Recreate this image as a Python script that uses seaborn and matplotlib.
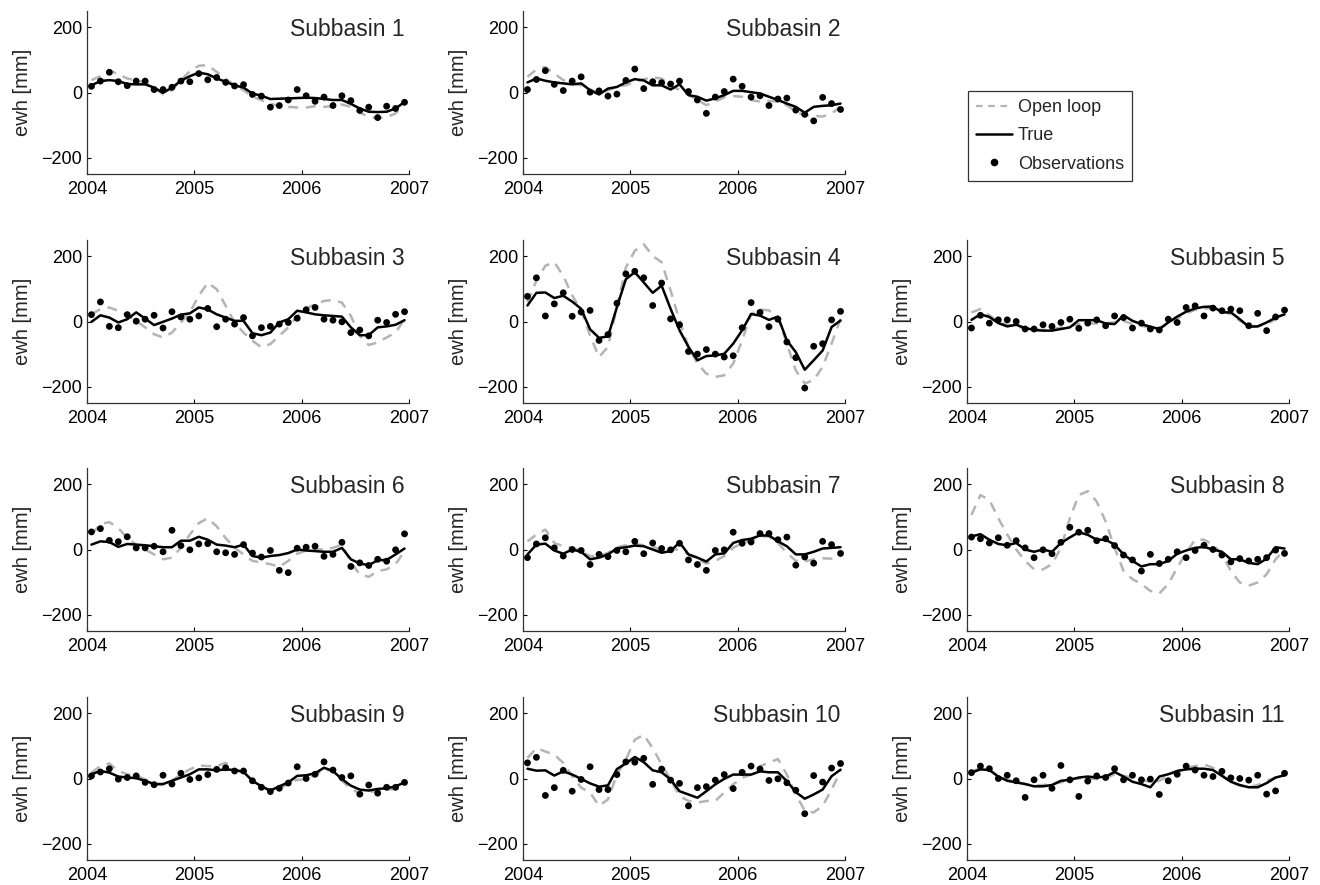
import matplotlib
matplotlib.use("Agg")
import matplotlib.pyplot as plt
from matplotlib.lines import Line2D
import numpy as np
import pandas as pd
import seaborn as sns

# monthly series, Jan 2004 - Dec 2006, plotted at mid-month
months = np.arange(36)
time_years = 2004 + (months + 0.5) / 12

sb1_obs = [19, 35, 62, 33, 21, 35, 35, 9, 9, 16, 35, 33, 58, 39, 46, 31, 20, 24, -6, -11,
           -45, -40, -23, 9, -10, -27, -14, -40, -10, -25, -55, -45, -77, -42, -49, -30]
sb1_true = [22, 35, 38, 35, 26, 25, 25, 15, -1, 15, 36, 50, 61, 56, 43, 33, 22, 15, -3, -10,
            -20, -19, -18, -17, -16, -17, -20, -23, -23, -35, -49, -59, -60, -59, -49, -29]
sb1_open = [38, 50, 68, 56, 43, 38, 31, 15, -5, 7, 38, 65, 82, 84, 63, 43, 22, 7, -13, -23,
            -34, -42, -44, -46, -46, -42, -44, -42, -37, -44, -62, -74, -79, -76, -64, -34]

sb2_obs = [9, 40, 67, 25, 6, 35, 48, 1, 5, -11, -5, 37, 72, 12, 33, 30, 26, 35, 3, -23,
           -64, -14, 3, 41, 19, -14, -10, -40, -20, -17, -54, -67, -87, -15, -34, -52]
sb2_true = [31, 43, 36, 31, 28, 25, 28, 7, -6, 12, 17, 31, 41, 37, 22, 22, 9, 25, -8, -13,
            -25, -18, -8, 5, 5, 1, -3, -13, -23, -34, -44, -62, -44, -41, -39, -34]
sb2_open = [48, 71, 78, 58, 38, 28, 22, 9, -3, 7, 17, 22, 33, 41, 46, 43, 19, 9, -8, -23,
            -39, -28, -15, -11, -13, -23, -28, -26, -28, -39, -59, -70, -71, -74, -64, -44]

sb3_obs = [21, 60, -15, -19, 21, 1, 7, 19, -20, 30, 14, 7, 17, 40, -16, 7, -8, 12, -44, -19,
           -15, -8, -3, 10, 36, 43, 7, 4, -1, -34, -26, -44, 4, -3, 22, 30]
sb3_true = [-1, 19, 12, -3, 7, 28, 9, -11, -1, 9, 21, 25, 43, 37, 22, 12, 2, 2, -36, -42,
            -34, -3, 7, 33, 28, 22, 19, 17, 15, -18, -42, -42, -18, -15, -10, 4]
sb3_open = [22, 38, 43, 33, 19, 2, -18, -39, -49, -34, -3, 28, 79, 119, 99, 48, -3, -34, -59, -79,
            -69, -44, -18, 17, 40, 53, 63, 66, 58, 17, -44, -72, -64, -49, -34, 7]

sb4_obs = [77, 134, 17, 54, 88, 16, 29, 34, -58, -40, 56, 146, 154, 134, 49, 118, 8, -10, -92, -100,
           -86, -100, -109, -105, -19, 58, 28, -16, 7, -63, -111, -204, -76, -68, 5, 31]
sb4_true = [49, 88, 89, 72, 79, 61, 39, -24, -50, -46, 44, 130, 151, 120, 88, 110, 39, -27, -78, -119,
            -106, -104, -99, -68, -27, 23, 18, 5, 15, -58, -94, -148, -119, -89, -17, 3]
sb4_open = [59, 125, 171, 182, 140, 80, 34, -43, -109, -78, 44, 166, 217, 237, 201, 182, 95, 3, -78, -129,
            -160, -170, -165, -129, -58, 23, 37, 34, 13, -68, -150, -190, -180, -139, -68, 8]

sb5_obs = [-20, 19, -5, 5, 5, 0, -23, -23, -10, -15, -3, 7, -21, -5, 5, -13, 17, 12, -20, -5,
           -23, -26, 7, -3, 43, 48, 17, 41, 33, 38, 33, -13, 25, -28, 14, 35]
sb5_true = [5, 22, 14, -5, -15, -10, -20, -26, -28, -28, -23, -18, 4, 4, 4, -6, -8, 19, 2, -8,
            -16, -23, -3, 15, 30, 40, 45, 46, 28, 28, 7, -16, -15, -3, 12, 22]
sb5_open = [28, 38, 19, -1, -10, -15, -21, -25, -26, -23, -19, -15, -8, -6, -6, -5, -3, 2, -8, -13,
            -20, -21, -8, 9, 25, 36, 40, 40, 33, 22, 2, -13, -15, -8, 7, 22]

sb6_obs = [54, 64, 28, 24, 39, 5, 5, 10, -7, 59, 12, -1, 17, 18, -7, -10, -15, 15, -11, -23,
           -3, -64, -71, 4, 7, 10, -21, -15, 22, -52, -41, -49, -30, -36, -1, 48]
sb6_true = [15, 25, 23, 8, 17, 15, 13, 10, 7, 7, 27, 27, 39, 30, 15, 12, 7, 15, -20, -25,
            -20, -17, -11, 0, -3, -5, -7, -7, 5, -30, -43, -48, -33, -32, -15, 3]
sb6_open = [46, 78, 84, 66, 35, 15, 0, -15, -30, -25, 5, 46, 81, 96, 71, 35, 5, -15, -35, -40,
            -45, -53, -35, -13, -3, 0, 0, 5, 15, -40, -76, -84, -66, -61, -45, -5]

sb7_obs = [-25, 17, 36, 5, -20, 0, -3, -46, -15, -22, -3, -7, 25, -13, 20, 3, -1, 19, -32, -46,
           -64, -3, -1, 53, 19, 23, 49, 49, 30, 38, -48, -23, -42, 25, 15, -12]
sb7_true = [-15, 15, 18, -3, -13, 0, -7, -30, -25, -15, 3, 7, 12, 10, 0, -10, -5, 22, -15, -25,
            -37, -15, -12, 20, 29, 33, 43, 43, 25, 10, -15, -15, -7, 3, 5, 7]
sb7_open = [25, 46, 61, 20, 10, 5, -5, -20, -20, -10, 7, 13, 17, 13, 10, -3, 0, 0, -15, -30,
            -43, -35, -20, 5, 20, 27, 40, 40, 20, -10, -35, -37, -30, -27, -28, -20]

sb8_obs = [38, 33, 20, 36, 13, 27, 5, -25, -1, -13, 22, 68, 53, 59, 27, 33, 12, -17, -32, -66,
           -15, -43, -30, -7, -25, -3, 13, 0, -17, -38, -28, -35, -30, -25, -2, -12]
sb8_true = [40, 47, 30, 17, 13, 20, 0, -7, 0, -7, 20, 37, 53, 45, 30, 30, 15, -15, -35, -52,
            -45, -45, -35, -13, -3, 5, 8, 0, -7, -30, -30, -41, -45, -28, 7, 3]
sb8_open = [106, 167, 152, 96, 46, 0, -35, -61, -61, -45, 5, 96, 167, 179, 147, 86, 5, -66, -91, -106,
            -127, -135, -106, -56, -10, 30, 30, 15, -15, -66, -101, -111, -101, -76, -30, 0]

sb9_obs = [8, 20, 30, -2, 3, 8, -12, -19, 10, -17, 16, -3, 2, 12, 28, 33, 23, 23, -7, -27,
           -40, -30, -14, 36, 0, 13, 51, 26, 3, 8, -48, -20, -45, -27, -27, -12]
sb9_true = [13, 23, 18, 6, 3, 1, -7, -17, -17, -7, 3, 13, 28, 28, 25, 28, 26, 20, -7, -24,
            -37, -24, -12, 8, 10, 16, 33, 23, -2, -22, -34, -37, -32, -30, -24, -12]
sb9_open = [18, 38, 46, 23, 13, 8, -2, -17, -20, -7, 13, 28, 40, 38, 38, 48, 28, 20, -7, -27,
            -37, -30, -17, -4, -2, 10, 28, 23, -7, -32, -45, -42, -37, -34, -32, -17]

sb10_obs = [48, 65, -52, -28, 25, -39, -3, 36, -34, -34, 12, 51, 50, 62, -18, 29, -5, -15, -84, -28,
            -25, -5, 12, -31, 19, 38, 29, -6, -1, -13, -36, -108, 9, -11, 32, 46]
sb10_true = [30, 24, 25, 9, 22, 12, -1, -15, -25, -21, 29, 46, 66, 50, 25, 19, -3, -39, -49, -59,
             -39, -18, -1, 12, 12, 12, 22, 19, 19, -8, -42, -62, -49, -34, 7, 27]
sb10_open = [63, 93, 83, 73, 48, 7, -28, -43, -84, -64, 12, 58, 119, 134, 93, 43, -3, -54, -69, -74,
             -69, -69, -43, -18, 2, 12, 38, 48, 60, 12, -49, -99, -104, -84, -34, 22]

sb11_obs = [18, 38, 30, 0, 10, -7, -58, -4, 10, -30, 40, -4, -55, -8, 8, 3, 30, -4, 10, -4,
            -2, -49, -7, 13, 38, 26, 10, 6, 22, 2, 0, -5, 10, -48, -38, 16]
sb11_true = [18, 28, 26, 6, -7, -12, -17, -24, -24, -20, -7, -4, 3, 6, 3, 6, 20, 6, -10, -17,
             -27, 6, 13, 23, 28, 30, 30, 26, 8, -10, -20, -27, -27, -14, 3, 10]
sb11_open = [20, 33, 28, 6, -4, -10, -17, -22, -20, -17, -12, -2, 0, 0, -2, 0, 13, 8, 3, -2,
             -12, -7, 8, 23, 33, 38, 43, 33, 13, -12, -22, -27, -20, -7, 3, 8]

subbasins = [
    (sb1_obs, sb1_true, sb1_open), (sb2_obs, sb2_true, sb2_open),
    (sb3_obs, sb3_true, sb3_open), (sb4_obs, sb4_true, sb4_open),
    (sb5_obs, sb5_true, sb5_open), (sb6_obs, sb6_true, sb6_open),
    (sb7_obs, sb7_true, sb7_open), (sb8_obs, sb8_true, sb8_open),
    (sb9_obs, sb9_true, sb9_open), (sb10_obs, sb10_true, sb10_open),
    (sb11_obs, sb11_true, sb11_open),
]
# grid slots (row, col); slot (0, 2) holds the legend
slots = [(0, 0), (0, 1), (1, 0), (1, 1), (1, 2), (2, 0), (2, 1), (2, 2), (3, 0), (3, 1), (3, 2)]

sns.set_style("ticks")
plt.rcParams["font.family"] = ["Liberation Sans", "DejaVu Sans"]

W, H = 1320, 885
fig = plt.figure(figsize=(W / 100, H / 100), dpi=100)

col_left = [87, 523, 967]
row_top = [11, 240, 468, 697]
ax_w, ax_h = 322, 163

OL_COLOR = "#b4b4b4"

for n, ((obs, true, ol), (r, c)) in enumerate(zip(subbasins, slots), start=1):
    ax = fig.add_axes([col_left[c] / W, 1 - (row_top[r] + ax_h) / H, ax_w / W, ax_h / H])
    df = pd.DataFrame({"t": time_years, "obs": obs, "true": true, "ol": ol})

    sns.lineplot(data=df, x="t", y="ol", ax=ax, color=OL_COLOR, linewidth=1.8,
                 dashes=False, linestyle=(0, (4, 3)))
    sns.lineplot(data=df, x="t", y="true", ax=ax, color="black", linewidth=1.8)
    sns.scatterplot(data=df, x="t", y="obs", ax=ax, color="black", s=24,
                    edgecolor="none", zorder=3)

    ax.set_xlim(2004, 2007)
    ax.set_ylim(-250, 250)
    ax.set_xticks([2004, 2005, 2006, 2007])
    ax.set_xticklabels(["2004", "2005", "2006", "2007"])
    ax.set_yticks([-200, 0, 200])
    ax.set_xlabel("")
    ax.set_ylabel("ewh [mm]", fontsize=14.5)
    ax.yaxis.set_label_coords(-0.17, 0.5)
    ax.tick_params(direction="in", length=3, labelsize=13, colors="black", width=0.8)
    ax.tick_params(axis="x", pad=5)
    for side in ["left", "bottom"]:
        ax.spines[side].set_color("#333333")
        ax.spines[side].set_linewidth(0.9)
    sns.despine(ax=ax)
    ax.text(0.985, 0.885, f"Subbasin {n}", transform=ax.transAxes, ha="right",
            va="center", fontsize=16.5)

handles = [
    Line2D([], [], color=OL_COLOR, linestyle=(0, (3, 2.5)), linewidth=1.6),
    Line2D([], [], color="black", linewidth=1.8),
    Line2D([], [], color="black", marker="o", markersize=4.5, linestyle="none"),
]
leg = fig.legend(handles, ["Open loop", "True", "Observations"], loc="upper left",
                 bbox_to_anchor=(968 / W, 1 - 91 / H), fontsize=13, frameon=True,
                 fancybox=False, edgecolor="black", handlelength=2.0, handletextpad=0.3,
                 borderpad=0.45, labelspacing=0.62, borderaxespad=0)
leg.get_frame().set_linewidth(0.9)

fig.savefig("out.png", dpi=100)
